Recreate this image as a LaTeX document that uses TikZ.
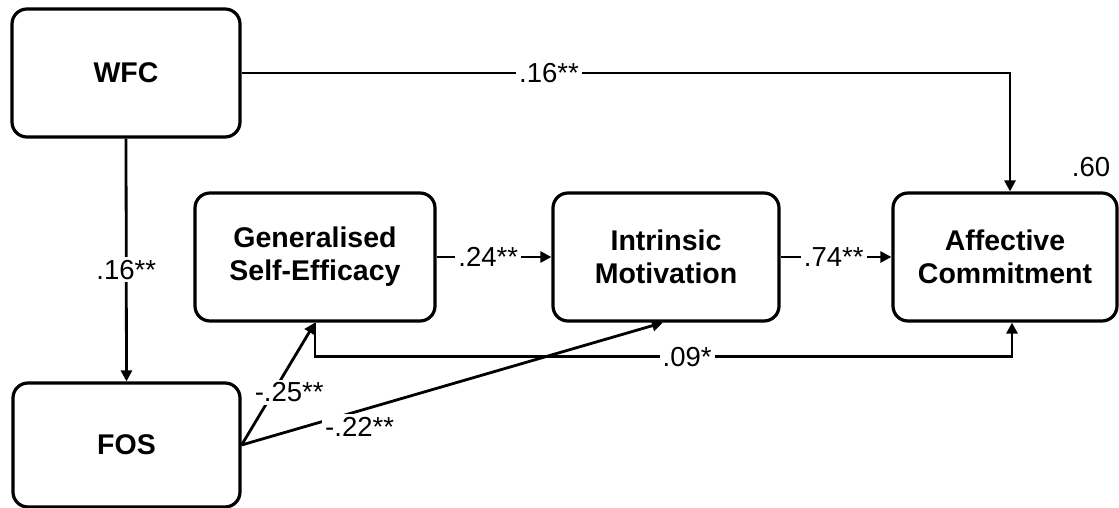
\documentclass[tikz,border=0pt]{standalone}
\usepackage{fontspec}
\setmainfont{Liberation Sans}
\usetikzlibrary{arrows.meta}
\begin{document}
\begin{tikzpicture}[x=1pt,y=-1pt,
  box/.style={draw, line width=3.2pt, rounded corners=15pt, align=center,
    font=\fontsize{28.5}{33}\selectfont\bfseries, inner sep=0pt},
  arr/.style={line width=2.8pt, -{Triangle[length=11pt,width=11pt]}},
  lab/.style={fill=white, inner sep=3pt, font=\fontsize{27.5}{33}\selectfont}
]
\useasboundingbox (0,0) rectangle (1119,508);
\node[box, minimum width=228pt, minimum height=128pt] (WFC) at (126,73) {WFC};
\node[box, minimum width=227pt, minimum height=124pt] (FOS) at (126.5,445) {FOS};
\node[box, minimum width=240pt, minimum height=128pt] (GSE) at (315,257) {Generalised\\Self-Efficacy};
\node[box, minimum width=226pt, minimum height=128pt] (IM) at (666,257) {Intrinsic\\Motivation};
\node[box, minimum width=224pt, minimum height=128pt] (AC) at (1005,257) {Affective\\Commitment};
\node[font=\fontsize{27.5}{33}\selectfont] (R2) at (1091,167) {.60};

\draw[arr] (WFC.east) -| ([xshift=5pt]AC.north) node[lab, pos=0.2] {.16**};
\draw[arr] (WFC.south) -- (FOS.north) node[lab, pos=0.54] {.16**};
\draw[arr] (GSE.east) -- (IM.west) node[lab, pos=0.45] {.24**};
\draw[arr] (IM.east) -- (AC.west) node[lab, pos=0.48] {.74**};
\draw[arr] (GSE.south) -- ++(0,34) -| ([xshift=7pt]AC.south) node[lab, pos=0.267] {.09*};
\draw[arr] (FOS.east) -- ([xshift=-3pt]IM.south) node[lab, pos=0.28, yshift=-16pt] {-.22**};
\draw[arr] (FOS.east) -- (GSE.south) node[lab, pos=0.43, xshift=16pt] {-.25**};
\end{tikzpicture}
\end{document}
